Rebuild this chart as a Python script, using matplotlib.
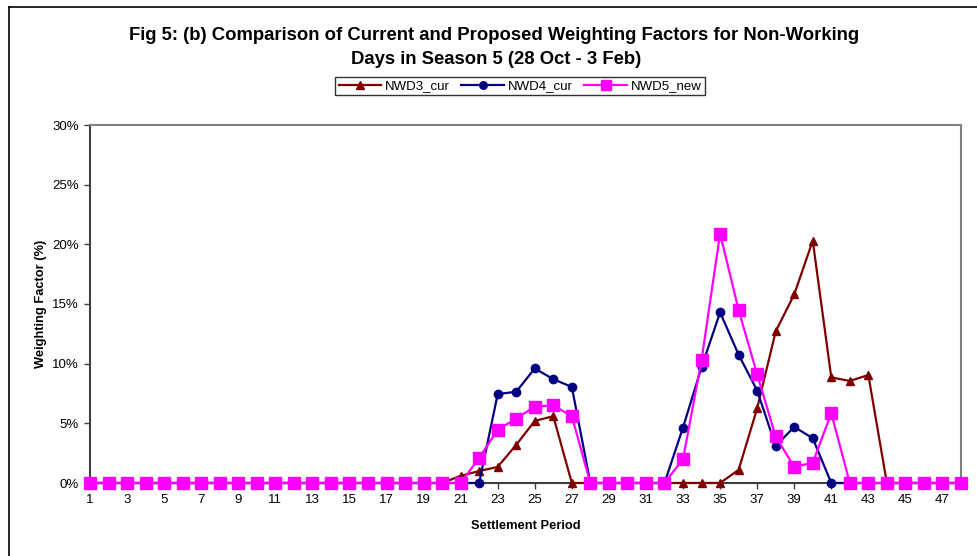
import matplotlib
matplotlib.use('Agg')
import matplotlib.pyplot as plt
from matplotlib.ticker import PercentFormatter
from matplotlib.lines import Line2D

plt.rcParams['font.family'] = ['Liberation Sans', 'DejaVu Sans']

periods = list(range(1, 49))

# weighting factors in %
nwd3_cur = [0]*20 + [0.6, 1.0, 1.35, 3.2, 5.2, 5.6, 0] + [0]*8 + \
           [1.1, 6.25, 12.7, 15.8, 20.3, 8.85, 8.55, 9.05] + [0]*5
nwd4_cur = [0]*22 + [7.45, 7.65, 9.6, 8.7, 8.05] + [0]*5 + \
           [4.65, 9.7, 14.3, 10.75, 7.75, 3.1, 4.7, 3.75] + [0]*8
nwd5_new = [0]*21 + [2.1, 4.45, 5.4, 6.4, 6.5, 5.6] + [0]*5 + \
           [2.0, 10.3, 20.9, 14.5, 9.1, 3.9, 1.35, 1.7, 5.85] + [0]*7

xtick_labels = [str(p) for p in range(1, 49, 2)]

fig = plt.figure(figsize=(9.77, 5.56), dpi=100)
ax = fig.add_axes([90/977, 1-483/556, (961-90)/977, (483-125)/556])

ax.plot(periods, nwd3_cur, color='#800000', lw=1.6, marker='^', ms=6,
        label='NWD3_cur', clip_on=False, zorder=3)
ax.plot(periods, nwd4_cur, color='#000080', lw=1.6, marker='o', ms=6,
        label='NWD4_cur', clip_on=False, zorder=4)
ax.plot(periods, nwd5_new, color='#FF00FF', lw=1.6, marker='s', ms=8.5,
        label='NWD5_new', clip_on=False, zorder=5)

ax.set_xlim(1, 48)
ax.set_ylim(0, 30)
ax.set_xticks(range(1, 49, 2))
ax.set_xticklabels(xtick_labels)
ax.set_yticks(range(0, 31, 5))
ax.yaxis.set_major_formatter(PercentFormatter(decimals=0))
ax.tick_params(axis='both', labelsize=9.5, length=4, width=1, color='#404040',
               pad=4)

for s in ['left', 'bottom']:
    ax.spines[s].set_color('#404040')
    ax.spines[s].set_linewidth(1.5)
for s in ['top', 'right']:
    ax.spines[s].set_color('#808080')
    ax.spines[s].set_linewidth(1.5)

ax.set_xlabel('Settlement Period', fontsize=9.3, fontweight='bold', labelpad=10)
ax.set_ylabel('Weighting Factor (%)', fontsize=9.3, fontweight='bold', labelpad=4)

fig.text(494/977, 1-35/556, 'Fig 5: (b) Comparison of Current and Proposed Weighting Factors for Non-Working',
         ha='center', va='center', fontsize=13.3, fontweight='bold')
fig.text(496/977, 1-60/556, 'Days in Season 5 (28 Oct - 3 Feb)',
         ha='center', va='center', fontsize=13.3, fontweight='bold')

leg = fig.legend(loc='center', bbox_to_anchor=(520/977, 1-86/556), ncol=3,
                 fontsize=9.5, frameon=True, fancybox=False, borderpad=0.25,
                 handlelength=3.2, columnspacing=0.9, handletextpad=0.3,
                 borderaxespad=0, markerscale=0.9)
leg.get_frame().set_edgecolor('black')
leg.get_frame().set_linewidth(1)

# outer chart border (left and top visible)
fig.add_artist(Line2D([9/977, 9/977], [0, 1-7/556], color='black', lw=1.2))
fig.add_artist(Line2D([9/977, 1], [1-7/556, 1-7/556], color='black', lw=1.2))

fig.savefig('out.png', dpi=100)
